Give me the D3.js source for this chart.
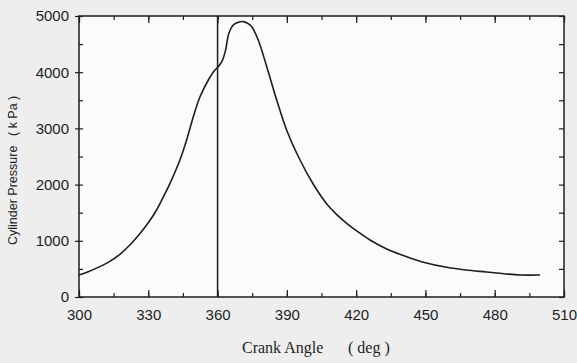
<!DOCTYPE html>
<html><head><meta charset="utf-8">
<script src="https://cdn.jsdelivr.net/npm/d3@7"></script>
<style>
html,body{margin:0;padding:0;background:#eeeeee;}
svg{display:block;}
</style></head>
<body>
<svg id="chart" width="577" height="363"></svg>
<script>
const crankAngle = [300, 304, 309, 313, 317.7, 322, 326.4, 330, 333.6, 336.5, 339.4, 343.7, 346.6, 349.5, 352.4, 356, 358.5, 360.3, 362, 363.5, 364.8, 366.8, 369, 371.1, 373, 374.8, 377.6, 381.3, 385.6, 389.9, 395.7, 401.4, 407.2, 411.5, 415.9, 420.5, 426, 433, 441.9, 450, 459.2, 467.5, 476.5, 484, 491, 499.6];
const pressure   = [390, 450, 540, 625, 760, 925, 1130, 1320, 1548, 1780, 2023, 2438, 2794, 3208, 3564, 3861, 4020, 4098, 4200, 4400, 4680, 4840, 4890, 4900, 4870, 4810, 4573, 4098, 3505, 2972, 2438, 2010, 1660, 1470, 1311, 1168, 1014, 860, 717, 610, 528, 480, 445, 415, 391, 391];
const xTicks = [300, 330, 360, 390, 420, 450, 480, 510];
const yTicks = [0, 1000, 2000, 3000, 4000, 5000];
const refAngle = 360;

(function () {
const svg = d3.select("#chart");
const m = {l: 79, r: 13, t: 16, b: 66};
const W = 577, H = 363;
const x = d3.scaleLinear().domain([300, 510]).range([m.l, W - m.r]);
const y = d3.scaleLinear().domain([0, 5000]).range([H - m.b, m.t]);

svg.append("rect").attr("x", x(300)).attr("y", y(5000))
  .attr("width", x(510) - x(300)).attr("height", y(0) - y(5000))
  .attr("fill", "#fbfbfb");

const ink = "#1e1e1e";
const minorX = d3.range(300, 511, 15);
const minorY = d3.range(0, 5001, 500);

function drawAxis(g, axis) {
  g.call(axis);
  g.select(".domain").remove();
  g.selectAll("line").attr("stroke", ink).attr("stroke-width", 1.2);
  return g;
}

drawAxis(svg.append("g").attr("transform", `translate(0,${y(0)})`), d3.axisBottom(x).tickValues(minorX).tickSize(-4).tickFormat(""));
const bottomMaj = drawAxis(svg.append("g").attr("transform", `translate(0,${y(0)})`), d3.axisBottom(x).tickValues(xTicks).tickSize(-7).tickPadding(12).tickFormat(d3.format("d")));
bottomMaj.selectAll("text").attr("font-family", "Liberation Sans, Arial, sans-serif").attr("font-size", 15).attr("fill", ink);

drawAxis(svg.append("g").attr("transform", `translate(0,${y(5000)})`), d3.axisTop(x).tickValues(minorX).tickSize(-4).tickFormat(""));
drawAxis(svg.append("g").attr("transform", `translate(0,${y(5000)})`), d3.axisTop(x).tickValues(xTicks).tickSize(-7).tickFormat(""));

drawAxis(svg.append("g").attr("transform", `translate(${x(300)},0)`), d3.axisLeft(y).tickValues(minorY).tickSize(-4).tickFormat(""));
const leftMaj = drawAxis(svg.append("g").attr("transform", `translate(${x(300)},0)`), d3.axisLeft(y).tickValues(yTicks).tickSize(4).tickPadding(6).tickFormat(d3.format("d")));
leftMaj.selectAll("text").attr("font-family", "Liberation Sans, Arial, sans-serif").attr("font-size", 15).attr("fill", ink);

drawAxis(svg.append("g").attr("transform", `translate(${x(510)},0)`), d3.axisRight(y).tickValues(minorY).tickSize(-5).tickFormat(""));

svg.append("rect").attr("x", x(300)).attr("y", y(5000))
  .attr("width", x(510) - x(300)).attr("height", y(0) - y(5000))
  .attr("fill", "none").attr("stroke", ink).attr("stroke-width", 1.5);

svg.append("line").attr("x1", x(refAngle)).attr("x2", x(refAngle))
  .attr("y1", y(5000)).attr("y2", y(0)).attr("stroke", ink).attr("stroke-width", 1.5);

const data = crankAngle.map((a, i) => [a, pressure[i]]);
svg.append("path").datum(data)
  .attr("fill", "none").attr("stroke", ink).attr("stroke-width", 1.6)
  .attr("d", d3.line().x(d => x(d[0])).y(d => y(d[1])).curve(d3.curveCatmullRom.alpha(0.5)));

const xt = svg.append("text").attr("y", 353)
  .attr("font-family", "Liberation Serif, Times New Roman, serif").attr("font-size", 16)
  .attr("fill", ink);
xt.append("tspan").attr("x", 242).text("Crank Angle");
xt.append("tspan").attr("x", 348).text("( deg )");

const yt = svg.append("text").attr("transform", "translate(17,0) rotate(-90)")
  .attr("font-family", "Liberation Sans, Arial, sans-serif").attr("font-size", 12.5)
  .attr("fill", ink);
yt.append("tspan").attr("x", -245).text("Cylinder Pressure");
yt.append("tspan").attr("x", -136).text("( k Pa )");
})();
</script>
</body></html>
